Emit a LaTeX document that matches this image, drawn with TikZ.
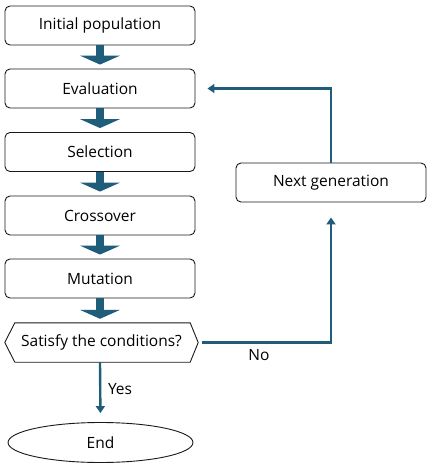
\documentclass[tikz,border=0pt]{standalone}
\usepackage{fontspec}
\setmainfont{Open Sans}
\usetikzlibrary{arrows.meta,calc,shapes.geometric}
\definecolor{flow}{RGB}{31,93,122}
\tikzset{
  stepbox/.style={draw=black!90, line width=0.9pt, rounded corners=5pt,
    minimum width=190pt, minimum height=39pt, inner sep=0pt,
    font=\fontsize{15.5}{18}\selectfont},
  plain/.style={inner sep=0pt, font=\fontsize{15.5}{18}\selectfont},
  blockarrow/.style={draw=flow, line width=8pt,
    -{Triangle[width=40pt,length=9pt]}, shorten >=4pt},
  thinarrow/.style={draw=flow, line width=2.4pt,
    -{Triangle[width=9pt,length=7pt]}},
}
\begin{document}
\begin{tikzpicture}[x=1pt,y=-1pt]
\useasboundingbox (0,0) rectangle (428,467);
\node[stepbox] (init) at (100,25.5) {Initial population};
\node[stepbox] (eval) at (100,88.5) {Evaluation};
\node[stepbox] (sel)  at (100,152) {Selection};
\node[stepbox] (cross) at (100,215.5) {Crossover};
\node[stepbox] (mut)  at (100,278.5) {Mutation};
\node[plain, minimum width=193pt, minimum height=39pt] (cond) at (101.5,342.5) {Satisfy the conditions?};
\draw[draw=black!90, line width=0.9pt, line join=round]
  (cond.west) -- ($(cond.north west)+(10,0)$) -- ($(cond.north east)+(-8,0)$)
  -- (cond.east) -- ($(cond.south east)+(-8,0)$) -- ($(cond.south west)+(10,0)$) -- cycle;
\node[draw=black!90, line width=0.9pt, ellipse, minimum width=185pt, minimum height=40pt,
  inner sep=0pt, font=\fontsize{15.5}{18}\selectfont] (end) at (100.5,442.5) {End};
\node[stepbox] (next) at (331,182.5) {Next generation};

\draw[blockarrow] (init.south) -- (eval.north);
\draw[blockarrow] (eval.south) -- (sel.north);
\draw[blockarrow] (sel.south) -- (cross.north);
\draw[blockarrow] (cross.south) -- (mut.north);
\draw[blockarrow] (mut.south) -- ($(cond.north)+(-1.5,0)$);

\draw[thinarrow, shorten >=9pt] ($(cond.south)+(-1.5,0)$) -- (end.north);
\draw[thinarrow, shorten >=15pt, shorten <=4pt] (cond.east) -| (next.south);
\draw[thinarrow, shorten >=12pt] (next.north) |- (eval.east);

\node[plain] (yes) at (120,389) {Yes};
\node[plain] (no) at (259,355) {No};
\end{tikzpicture}
\end{document}
